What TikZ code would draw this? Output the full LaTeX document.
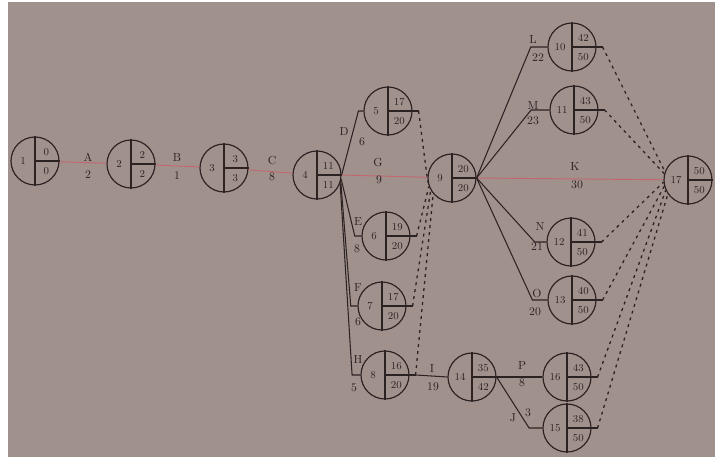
\documentclass[tikz,border=0pt]{standalone}
\usepackage{tikz}
\usetikzlibrary{arrows.meta}
\definecolor{paper}{RGB}{160,145,141}
\definecolor{ink}{RGB}{45,34,34}
\definecolor{critred}{RGB}{196,102,112}

\begin{document}
\begin{tikzpicture}[x=0.03cm, y=-0.03cm,
        event/.style={draw=ink, line width=1pt, circle, minimum size=1.44cm, inner sep=0pt},
        act/.style={draw=ink, line width=0.9pt},
        crit/.style={draw=critred, line width=0.8pt},
        dummy/.style={draw=ink, line width=1.1pt, dash pattern=on 2.5pt off 3.5pt},
        lbl/.style={text=ink, font=\normalsize, inner sep=1pt}]
        % sheet of paper
        \fill[white] (0,0) rectangle (722,457);
        \fill[paper] (8,2) rectangle (715,457);
        \useasboundingbox (0,0) rectangle (722,457);
        % events: number / x / y / earliest / latest
        \foreach \n/\x/\y/\es/\lf in {1/35/161/0/0, 2/131/164/2/2, 3/224/168/3/3, 4/317/175/11/11,
                5/388/111/17/20, 6/386/236/19/20, 7/382/306/17/20, 8/385/375/16/20,
                9/452/178/20/20, 10/572/47/42/50, 11/574/110/43/50, 12/571/242/41/50,
                13/572/300/40/50, 14/472/377/35/42, 16/567/377/43/50, 15/567/428/38/50,
                17/688/180/50/50} {
            \node[event] (e\n) at (\x,\y) {};
            \draw[act] (e\n.north) -- (e\n.south);
            \draw[act] (e\n.center) -- (e\n.east);
            \node[lbl, font=\small] (n\n) at ([xshift=-0.36cm]e\n.center) {\n};
            \node[lbl, font=\small] (s\n) at ([xshift=0.34cm, yshift=0.28cm]e\n.center) {\es};
            \node[lbl, font=\small] (f\n) at ([xshift=0.34cm, yshift=-0.3cm]e\n.center) {\lf};
        }
        % tails for the dummies
        \foreach \a in {5,6,7,8,10,11,12,13,15,16}
            \draw[act] (e\a.east) -- ++(6,0) coordinate (t\a);
        % critical path
        \draw[crit] (e1) -- (e2);
        \draw[crit] (e2) -- (e3);
        \draw[crit] (e3) -- (e4);
        \draw[crit] (e4.east) -- (e9);
        \draw[crit] (e9.east) -- (e17);
        % other activities
        \draw[act] (e4.east) -- ([xshift=-0.15cm]e5.west) -- (e5.west);
        \draw[act] (e4.-10) -- ([xshift=-0.2cm]e6.west) -- (e6.west);
        \draw[act] (e4.-15) -- ([xshift=-0.2cm]e7.west) -- (e7.west);
        \draw[act] (e4.-20) -- ([xshift=-0.25cm]e8.west) -- (e8.west);
        \draw[act] (t8) -- (e14.west);
        \draw[act] (e14.east) -- (e16.west);
        \draw[act] (e14.east) -- ([xshift=-0.4cm]e15.west) -- (e15.west);
        \draw[act] (e9.east) -- ([xshift=-0.5cm]e10.west) -- (e10.west);
        \draw[act] (e9.east) -- ([xshift=-0.55cm]e11.west) -- (e11.west);
        \draw[act] (e9.east) -- ([xshift=-0.35cm]e12.west) -- (e12.west);
        \draw[act] (e9.east) -- ([xshift=-0.45cm]e13.west) -- (e13.west);
        % dummies
        \draw[dummy] (t5) -- (e9.190);
        \draw[dummy] (t6) -- (e9.200);
        \draw[dummy] (t7) -- (e9.210);
        \draw[dummy] (t8) -- (e9.220);
        \draw[dummy] (t10) -- (e17.160);
        \draw[dummy] (t11) -- (e17.165);
        \draw[dummy] (t12) -- (e17.185);
        \draw[dummy] (t13) -- (e17.195);
        \draw[dummy] (t16) -- (e17.205);
        \draw[dummy] (t15) -- (e17.215);
        % activity names and durations
        \foreach \nm/\x/\y/\t in {aA/88/157/A, dA/88/175/2, aB/177/158/B, dB/177/176/1,
                aC/272/161/C, dC/272/177/8, aD/344/132/D, dD/362/142/6,
                aG/378/163/G, dG/379/180/9, aE/358/222/E, dE/357/249/8,
                aF/358/288/F, dF/358/322/6, aH/358/359/H, dH/354/388/5,
                aI/432/368/I, dI/433/387/19, aP/522/365/P, dP/522/383/8,
                aJ/513/418/J, dJ/528/413/3, aK/575/167/K, dK/577/185/30,
                aL/533/40/L, dL/538/58/22, aM/533/106/M, dM/533/121/23,
                aN/540/227/N, dN/537/247/21, aO/537/293/O, dO/535/312/20} {
            \node[lbl] (\nm) at (\x,\y) {\t};
        }
\end{tikzpicture}
\end{document}
